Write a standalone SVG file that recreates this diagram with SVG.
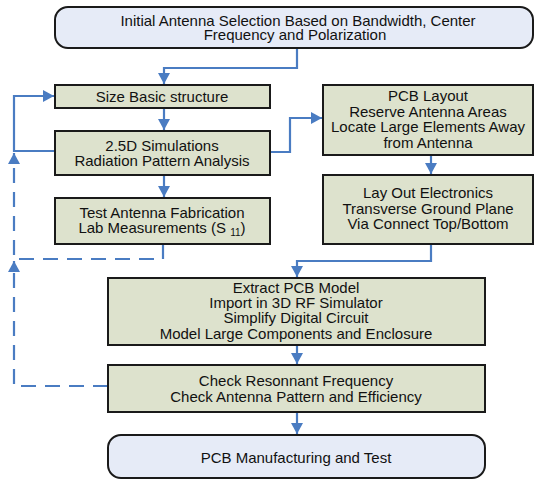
<svg xmlns="http://www.w3.org/2000/svg" width="535" height="480" viewBox="0 0 535 480">
<defs>
<style>
.box{fill:#dde2cd;stroke:#1a1a1a;stroke-width:2}
.term{fill:#e6ebf7;stroke:#1a1a1a;stroke-width:2}
.t{font-family:"Liberation Sans",Arial,sans-serif;font-size:15px;fill:#111;text-anchor:middle}
.c{fill:none;stroke:#4a7cc2;stroke-width:2.2}
.d{stroke-dasharray:15 9}
</style>
<marker id="ah" markerUnits="userSpaceOnUse" markerWidth="12" markerHeight="12" refX="11" refY="6" orient="auto">
<path d="M0,0 L11,6 L0,12 z" fill="#4a7cc2"/>
</marker>
</defs>
<rect width="535" height="480" fill="#fff"/>
<g id="connectors">
<path class="c" d="M297,48 V68 H164 V84" marker-end="url(#ah)"/>
<path class="c" d="M164,108 V130" marker-end="url(#ah)"/>
<path class="c" d="M164,175 V197" marker-end="url(#ah)"/>
<path class="c" d="M270,152 H290 V118 H322" marker-end="url(#ah)"/>
<path class="c" d="M55,151 H14 V96 H54" marker-end="url(#ah)"/>
<path class="c d" d="M163,244 V259 H14 V153" marker-end="url(#ah)"/>
<path class="c d" d="M108,386 H14 V261" marker-end="url(#ah)"/>
<path class="c" d="M431,155 V174" marker-end="url(#ah)"/>
<path class="c" d="M431,244 V261 H297 V277" marker-end="url(#ah)"/>
<path class="c" d="M297,345 V364" marker-end="url(#ah)"/>
<path class="c" d="M297,412 V434" marker-end="url(#ah)"/>
</g>
<g id="start">
<rect class="term" x="55" y="7" width="478" height="41" rx="13"/>
<text class="t" x="298" y="25.5">Initial Antenna Selection Based on Bandwidth, Center</text>
<text class="t" x="295" y="39.5">Frequency and Polarization</text>
</g>
<g id="size">
<rect class="box" x="55" y="85" width="215" height="23"/>
<text class="t" x="162" y="102">Size Basic structure</text>
</g>
<g id="sim">
<rect class="box" x="55" y="131" width="215" height="44"/>
<text class="t" x="162" y="151">2.5D Simulations</text>
<text class="t" x="162" y="165.5">Radiation Pattern Analysis</text>
</g>
<g id="test">
<rect class="box" x="55" y="198" width="215" height="46"/>
<text class="t" x="162" y="217.5">Test Antenna Fabrication</text>
<text class="t" x="162" y="233">Lab Measurements (S <tspan font-size="10" dy="3">11</tspan><tspan dy="-3">)</tspan></text>
</g>
<g id="pcb">
<rect class="box" x="323" y="85" width="210" height="70"/>
<text class="t" x="428" y="101">PCB Layout</text>
<text class="t" x="428" y="116.5">Reserve Antenna Areas</text>
<text class="t" x="428" y="132">Locate Large Elements Away</text>
<text class="t" x="428" y="147.5">from Antenna</text>
</g>
<g id="layout">
<rect class="box" x="323" y="175" width="210" height="69"/>
<text class="t" x="428" y="198">Lay Out Electronics</text>
<text class="t" x="428" y="213.5">Transverse Ground Plane</text>
<text class="t" x="428" y="229">Via Connect Top/Bottom</text>
</g>
<g id="extract">
<rect class="box" x="108" y="278" width="377" height="67"/>
<text class="t" x="296" y="293">Extract PCB Model</text>
<text class="t" x="296" y="308">Import in 3D RF Simulator</text>
<text class="t" x="296" y="323">Simplify Digital Circuit</text>
<text class="t" x="296" y="338.5">Model Large Components and Enclosure</text>
</g>
<g id="check">
<rect class="box" x="108" y="365" width="377" height="47"/>
<text class="t" x="296" y="385.5">Check Resonnant Frequency</text>
<text class="t" x="296" y="401.5">Check Antenna Pattern and Efficiency</text>
</g>
<g id="final">
<rect class="term" x="108" y="435" width="377" height="43" rx="13"/>
<text class="t" x="296" y="463">PCB Manufacturing and Test</text>
</g>
</svg>
